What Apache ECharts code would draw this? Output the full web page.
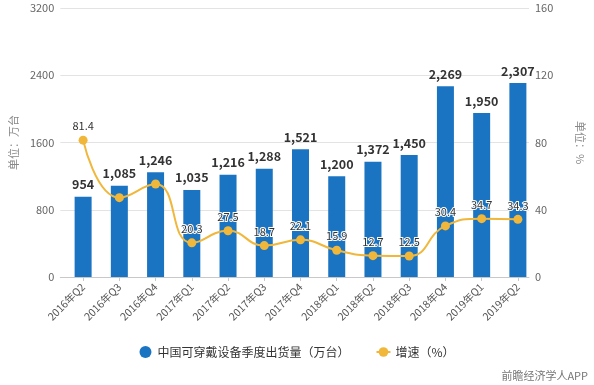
<!DOCTYPE html>
<html>
<head>
<meta charset="utf-8">
<script src="https://cdn.jsdelivr.net/npm/echarts@6/dist/echarts.min.js"></script>
<style>
html,body{margin:0;padding:0;background:#fff;}
#c{width:594px;height:385px;}
</style>
</head>
<body>
<div id="c"></div>
<script>
const categories = ['2016年Q2','2016年Q3','2016年Q4','2017年Q1','2017年Q2','2017年Q3','2017年Q4','2018年Q1','2018年Q2','2018年Q3','2018年Q4','2019年Q1','2019年Q2'];
const shipments = [954,1085,1246,1035,1216,1288,1521,1200,1372,1450,2269,1950,2307];
const growth = [81.4,47.2,55.3,20.3,27.5,18.7,22.1,15.9,12.7,12.5,30.4,34.7,34.3];
const growthLabelHidden = [1,2];
const leftTicks = {min:0,max:3200,interval:800};
const rightTicks = {min:0,max:160,interval:40};
const barName = '中国可穿戴设备季度出货量（万台）';
const lineName = '增速（%）';

const FONT = '"Noto Sans CJK SC","Noto Sans",sans-serif';
const chart = echarts.init(document.getElementById('c'), null, {renderer:'canvas'});
const fmt = v => v.toLocaleString('en-US');

chart.setOption({
  animation:false,
  textStyle:{fontFamily:FONT},
  legend:{
    bottom:22, left:'center', itemGap:26, itemWidth:14, itemHeight:12,
    textStyle:{fontSize:12,color:'#333',fontFamily:FONT},
    data:[{name:barName,icon:'circle'},{name:lineName}]
  },
  grid:[
    {left:55,right:49,top:8,bottom:108},
    {left:65,right:58,top:8,bottom:108}
  ],
  xAxis:[
    {gridIndex:0,type:'value',min:0,max:1,axisLine:{show:true,onZero:false,lineStyle:{color:'#c8c8c8'}},axisTick:{show:false},axisLabel:{show:false},splitLine:{show:false}},
    {gridIndex:1,type:'category',data:categories,axisLine:{show:false},
     axisTick:{show:true,alignWithLabel:true,length:4,lineStyle:{color:'#c8c8c8'}},
     axisLabel:{rotate:45,fontSize:10.5,color:'#555',margin:8,interval:0,fontFamily:FONT}}
  ],
  yAxis:[
    {gridIndex:0,type:'value',min:leftTicks.min,max:leftTicks.max,interval:leftTicks.interval,
     name:'单位：万台',nameLocation:'middle',nameGap:40,nameRotate:90,
     nameTextStyle:{color:'#888',fontSize:11,fontFamily:FONT},
     axisLine:{show:false},axisTick:{show:false},
     axisLabel:{color:'#666',fontSize:11,margin:6,formatter:v=>String(v)},
     splitLine:{lineStyle:{color:'#e3e3e3'}}},
    {gridIndex:0,type:'value',position:'right',min:rightTicks.min,max:rightTicks.max,interval:rightTicks.interval,
     name:'单位：%',nameLocation:'middle',nameGap:46,nameRotate:-90,
     nameTextStyle:{color:'#888',fontSize:11,fontFamily:FONT},
     axisLine:{show:false},axisTick:{show:false},
     axisLabel:{color:'#666',fontSize:11,margin:6,formatter:v=>String(v)},
     splitLine:{show:false}},
    {gridIndex:1,type:'value',min:leftTicks.min,max:leftTicks.max,show:false},
    {gridIndex:1,type:'value',min:rightTicks.min,max:rightTicks.max,show:false}
  ],
  series:[
    {name:barName,type:'bar',xAxisIndex:1,yAxisIndex:2,data:shipments,barWidth:17,
     itemStyle:{color:'#1b74c2'},
     label:{show:true,position:'top',distance:6,formatter:p=>fmt(p.value),fontSize:12.5,fontWeight:'bold',color:'#333'}},
    {name:lineName,type:'line',xAxisIndex:1,yAxisIndex:3,data:growth.map((v,i)=>({value:v,label:{show:!growthLabelHidden.includes(i)}})),
     smooth:true,symbol:'circle',symbolSize:9,
     lineStyle:{color:'#f0b73a',width:2},itemStyle:{color:'#f0b73a'},
     label:{show:true,position:'top',distance:4,fontSize:11,color:'#333',textBorderColor:'#fff',textBorderWidth:2},
     z:5}
  ],
  graphic:[
    {type:'text',right:6,bottom:4,style:{text:'前瞻经济学人APP',fill:'#777',font:'11px '+FONT}}
  ]
});
</script>
</body>
</html>
